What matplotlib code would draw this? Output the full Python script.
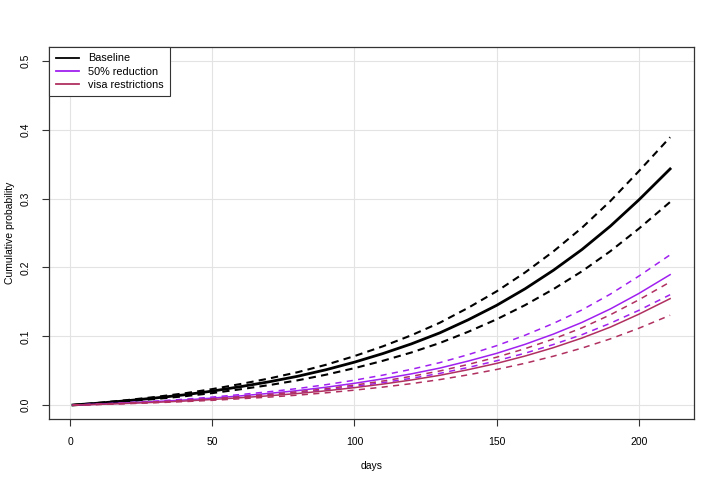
import matplotlib
matplotlib.use("Agg")
import matplotlib.pyplot as plt

plt.rcParams['font.family'] = ['Liberation Sans', 'DejaVu Sans']

days = [1, 10, 20, 30, 40, 50, 60, 70, 80, 90, 100, 110, 120, 130, 140, 150,
        160, 170, 180, 190, 200, 211]

# baseline with its band
base = [0.0003, 0.003, 0.0065, 0.0105, 0.015, 0.0205, 0.027, 0.034, 0.042, 0.0515,
        0.0625, 0.075, 0.089, 0.105, 0.124, 0.145, 0.169, 0.196, 0.226, 0.26, 0.298, 0.343]
base_hi = [0.0003, 0.0034, 0.0074, 0.012, 0.0171, 0.0234, 0.0308, 0.0388, 0.0479, 0.0587,
           0.0713, 0.0855, 0.1015, 0.1197, 0.1414, 0.1653, 0.1927, 0.2234, 0.2576, 0.2964,
           0.3397, 0.389]
base_lo = [0.0003, 0.0026, 0.0056, 0.009, 0.0129, 0.0176, 0.0232, 0.0292, 0.0361, 0.0443,
           0.0538, 0.0645, 0.0765, 0.0903, 0.1066, 0.1247, 0.1453, 0.1686, 0.1944, 0.2236,
           0.2563, 0.295]

# 50% reduction
half = [0.00015, 0.0015, 0.0033, 0.0053, 0.0075, 0.0103, 0.0136, 0.0172, 0.0212, 0.0261,
        0.0318, 0.0383, 0.0455, 0.0539, 0.0641, 0.0753, 0.0884, 0.1033, 0.1202, 0.1398,
        0.1622, 0.1895]
half_hi = [0.00015, 0.0017, 0.0037, 0.006, 0.0086, 0.0118, 0.0155, 0.0196, 0.0242, 0.0298,
           0.0363, 0.0437, 0.0521, 0.0618, 0.0734, 0.0864, 0.1016, 0.1188, 0.1383, 0.1613,
           0.1874, 0.2183]
half_lo = [0.00015, 0.0013, 0.0028, 0.0045, 0.0065, 0.0088, 0.0117, 0.0147, 0.0182, 0.0224,
           0.0273, 0.0328, 0.039, 0.0462, 0.0548, 0.0645, 0.0755, 0.0882, 0.1024, 0.119,
           0.1377, 0.1604]

# visa restrictions
visa = [0.00012, 0.0012, 0.0026, 0.0042, 0.006, 0.0083, 0.0109, 0.0137, 0.017, 0.0209,
        0.0255, 0.0307, 0.0366, 0.0434, 0.0516, 0.0607, 0.0714, 0.0836, 0.0975, 0.1134,
        0.1321, 0.1547]
visa_hi = [0.00012, 0.0014, 0.003, 0.0048, 0.0069, 0.0094, 0.0124, 0.0157, 0.0195, 0.0239,
           0.0292, 0.0351, 0.0419, 0.0497, 0.0592, 0.0697, 0.0821, 0.0962, 0.1123, 0.1313,
           0.153, 0.1789]
visa_lo = [0.00012, 0.001, 0.0022, 0.0036, 0.0052, 0.0071, 0.0094, 0.0118, 0.0146, 0.018,
           0.0219, 0.0263, 0.0313, 0.0372, 0.0441, 0.0519, 0.0609, 0.0712, 0.0829, 0.0963,
           0.1117, 0.1306]

purple = '#A020F0'
maroon = '#B03060'

fig = plt.figure(figsize=(7.2, 4.8), dpi=100)
ax = fig.add_axes([0.0681, 0.1271, 0.8958, 0.775])

ax.set_xlim(-7.4, 219.4)
ax.set_ylim(-0.02, 0.52)
ax.set_xticks([0, 50, 100, 150, 200])
ax.set_yticks([0.0, 0.1, 0.2, 0.3, 0.4, 0.5])
ax.set_yticklabels(['0.0', '0.1', '0.2', '0.3', '0.4', '0.5'], rotation=90, va='center')
ax.grid(True, color='#e3e3e3', lw=0.8)
ax.set_axisbelow(True)

dash = (3.5, 2.5)
ax.plot(days, base, color='black', lw=2, label='Baseline')
ax.plot(days, base_hi, color='black', lw=1.5, ls='--', dashes=dash)
ax.plot(days, base_lo, color='black', lw=1.5, ls='--', dashes=dash)
ax.plot(days, half, color=purple, lw=1.1, label='50% reduction')
ax.plot(days, half_hi, color=purple, lw=1.1, ls='--', dashes=(4, 3.5))
ax.plot(days, half_lo, color=purple, lw=1.1, ls='--', dashes=(4, 3.5))
ax.plot(days, visa, color=maroon, lw=1.1, label='visa restrictions')
ax.plot(days, visa_hi, color=maroon, lw=1.1, ls='--', dashes=(4, 3.5))
ax.plot(days, visa_lo, color=maroon, lw=1.1, ls='--', dashes=(4, 3.5))

for s in ax.spines.values():
    s.set_color('#333333')
    s.set_linewidth(0.9)
ax.tick_params(direction='out', length=5, width=0.8, color='#333333', labelsize=7.5, pad=8)

ax.set_xlabel('days', fontsize=7.5, labelpad=10)
ax.set_ylabel('Cumulative probability', fontsize=7.5, labelpad=4)

leg = ax.legend(loc='upper left', bbox_to_anchor=(0, 1), fontsize=7.8, frameon=True,
                fancybox=False, borderaxespad=0, handlelength=2.2, borderpad=0.6,
                labelspacing=0.3, handletextpad=0.8)
leg.get_frame().set_edgecolor('#333333')
leg.get_frame().set_linewidth(0.8)
leg.get_frame().set_alpha(1)
for ln in leg.get_lines():
    ln.set_linewidth(1.3)

fig.savefig('out.png', dpi=100)
